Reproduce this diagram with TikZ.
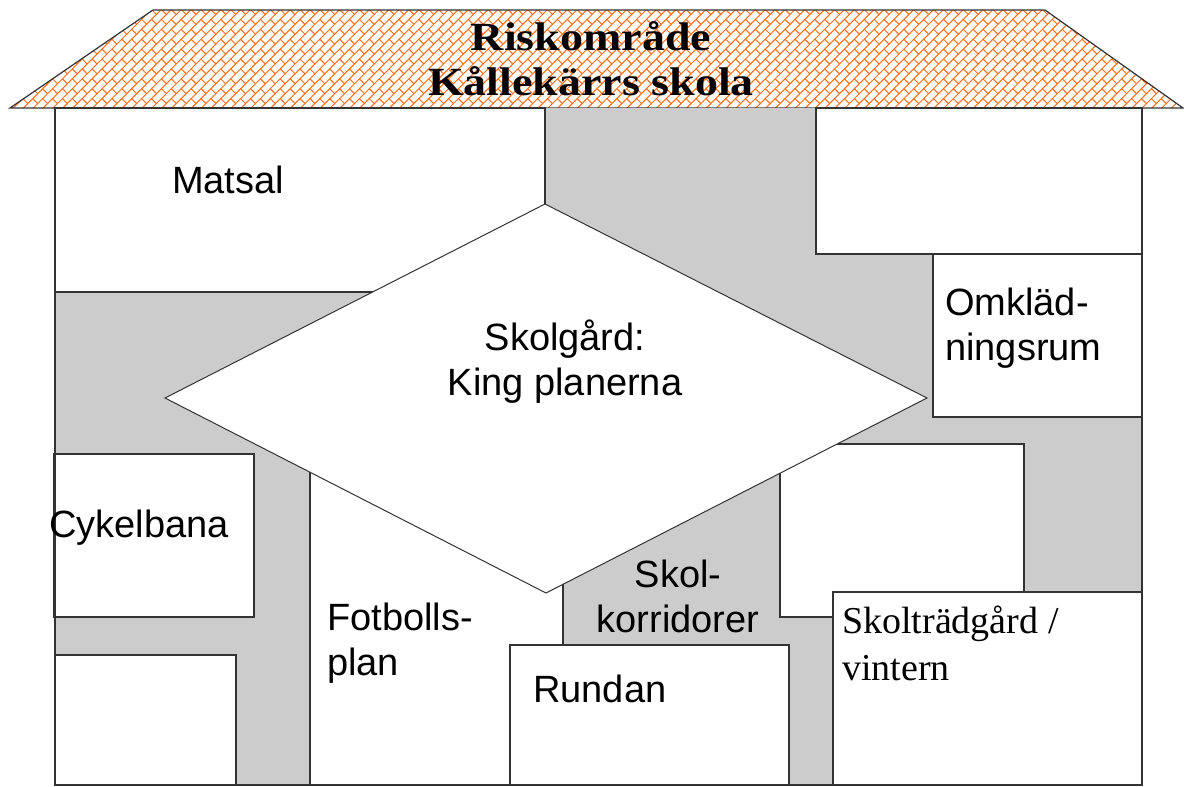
\documentclass[tikz,border=0pt]{standalone}
\usepackage{graphicx}
\usepackage{fontspec}
\setmainfont{Liberation Serif}
\setsansfont{Liberation Sans}

\definecolor{rooforange}{RGB}{255,110,20}
\definecolor{corridor}{RGB}{204,204,204}

\begin{document}
\begin{tikzpicture}[x=1pt, y=-1pt,
  room/.style={draw=black!80, line width=1.5pt, fill=white},
  tile/.style={draw=rooforange, line width=1pt},
  lbl/.style={inner sep=0pt, anchor=base west, align=left,
    font=\sffamily\fontsize{38}{45}\selectfont}]
\fill[white] (0,0) rectangle (1184,787);
\useasboundingbox (0,0) rectangle (1184,787);

% roof with diagonal tiles
\begin{scope}
  \clip (153,10) -- (1045,10) -- (1183,108) -- (10,108) -- cycle;
  \begin{scope}[shift={(597,59)}, rotate=45]
    \foreach \k in {-66,...,66} {
      \draw[tile] (7*\k-90,7*\k) -- (7*\k+90,7*\k);
      \foreach \m in {-6,...,6}
        \draw[tile] (7*\k+14*\m,7*\k) -- (7*\k+14*\m,7*\k+7);
    }
  \end{scope}
\end{scope}
\draw[line width=1.2pt, draw=black!80]
  (153,10) -- (1045,10) -- (1183,108) -- (10,108) -- cycle;
\node[inner sep=0pt, anchor=base, align=center,
  font=\rmfamily\bfseries\fontsize{40}{45}\selectfont] (title) at (591,95)
  {\scalebox{1.15}[1]{Riskområde}\\\scalebox{1.15}[1]{Kållekärrs skola}};

% rooms and yard
\fill[corridor] (55,108) rectangle (1142,785);
\draw[room] (55,108) rectangle (545,292);
\draw[room] (816,108) rectangle (1142,254);
\draw[room] (933,254) rectangle (1142,417);
\draw[room] (54,454) rectangle (254,617);
\draw[room] (55,655) rectangle (236,785);
\draw[room] (310,430) rectangle (563,785);
\draw[room] (780,444) rectangle (1024,617);
\draw[room] (510,645) rectangle (789,785);
\draw[room] (833,592) rectangle (1142,785);
\draw[room, line width=1pt] (545,204) -- (927,398) -- (546,593) -- (165,398) -- cycle;
\draw[line width=1.5pt, draw=black!80] (55,108) -- (55,785) -- (1142,785) -- (1142,108);

\node[lbl] (matsal) at (172,193) {Matsal};
\node[lbl, anchor=base, align=center] (skolgard) at (565,395) {Skolgård:\\King planerna};
\node[lbl] (omklad) at (945,360) {Omkläd-\\ningsrum};
\node[lbl] (cykel) at (49,537) {Cykelbana};
\node[lbl] (fotboll) at (327,675) {Fotbolls-\\plan};
\node[lbl, anchor=base, align=center] (korridor) at (678,632) {Skol-\\korridorer};
\node[lbl] (rundan) at (533,702) {Rundan};
\node[lbl, font=\rmfamily\fontsize{38}{47}\selectfont] (tradgard) at (842,680) {Skolträdgård /\\vintern};
\end{tikzpicture}
\end{document}
